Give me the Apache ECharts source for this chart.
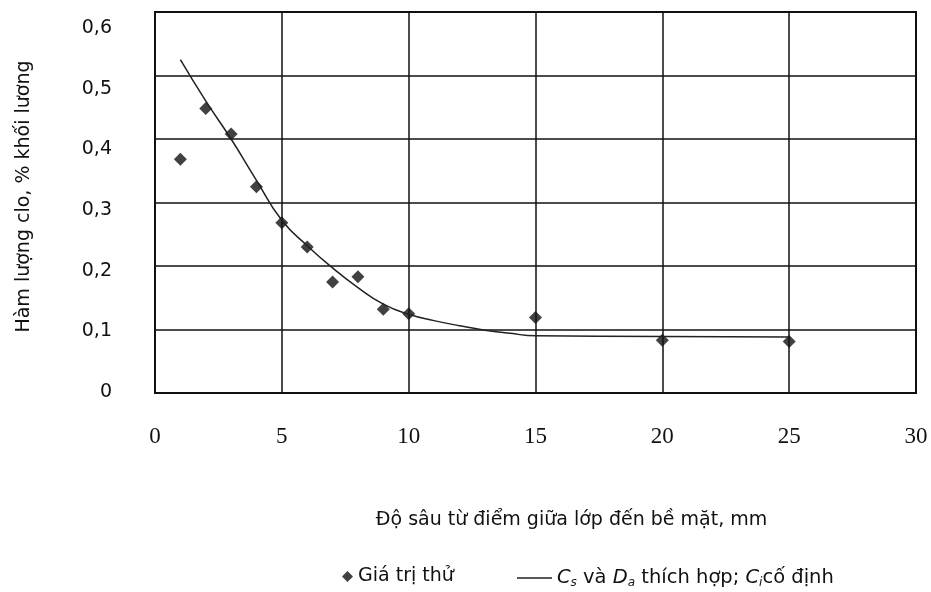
<!DOCTYPE html>
<html><head><meta charset="utf-8">
<script src="https://cdn.jsdelivr.net/npm/echarts@6/dist/echarts.min.js"></script>
<style>html,body{margin:0;padding:0;background:#fff}#c{width:931px;height:592px}</style>
</head><body><div id="c"></div>
<script>
const xTicks = [0, 5, 10, 15, 20, 25, 30];
const yTicks = [0, 0.1, 0.2, 0.3, 0.4, 0.5, 0.6];
const testDepth = [1, 2, 3, 4, 5, 6, 7, 8, 9, 10, 15, 20, 25];
const testValue = [0.368, 0.448, 0.408, 0.325, 0.268, 0.230, 0.175, 0.183, 0.132, 0.125, 0.119, 0.083, 0.081];
const fitDepth = [1, 2, 3, 4, 5, 6, 7, 8, 9, 10, 11, 12, 13, 14, 15, 20, 25];
const fitValue = [0.525, 0.460, 0.400, 0.335, 0.272, 0.232, 0.197, 0.166, 0.140, 0.124, 0.114, 0.106, 0.099, 0.094, 0.090, 0.089, 0.088];
const seriesNames = ['Giá trị thử', 'fit'];

const SANS = 'DejaVu Sans';
const chart = echarts.init(document.getElementById('c'));
chart.setOption({
  backgroundColor: '#fff',
  animation: false,
  grid: [
    {left: 155, right: 15, top: 12, bottom: 199, show: true, borderColor: '#111', borderWidth: 2},
    {left: 155, right: 15, top: 28, bottom: 200, show: false}
  ],
  xAxis: [{
    type: 'value', min: xTicks[0], max: xTicks[xTicks.length - 1], interval: 5, gridIndex: 0,
    name: 'Độ sâu từ điểm giữa lớp đến bề mặt, mm',
    nameLocation: 'middle', nameGap: 118,
    nameTextStyle: {fontFamily: SANS, fontSize: 19, color: '#111', padding: [0, 0, 0, 72]},
    axisLine: {lineStyle: {color: '#111', width: 2}},
    axisTick: {show: false},
    axisLabel: {fontFamily: 'Liberation Serif', fontSize: 23, color: '#111', margin: 32},
    splitLine: {lineStyle: {color: '#111', width: 1.5}}
  }, {
    type: 'value', min: 0, max: 30, gridIndex: 1, show: false
  }],
  yAxis: [{
    type: 'value', min: yTicks[0], max: yTicks[yTicks.length - 1], interval: 0.1, gridIndex: 0,
    name: 'Hàm lượng clo, % khối lương',
    nameLocation: 'middle', nameGap: 121,
    nameTextStyle: {fontFamily: SANS, fontSize: 19, color: '#111', padding: [0, 0, 0, 12]},
    axisLine: {lineStyle: {color: '#111', width: 2}},
    axisTick: {show: false},
    axisLabel: {show: false},
    splitLine: {lineStyle: {color: '#111', width: 1.5}}
  }, {
    type: 'value', min: yTicks[0], max: yTicks[yTicks.length - 1], interval: 0.1, gridIndex: 1,
    axisLine: {show: false}, axisTick: {show: false}, splitLine: {show: false},
    axisLabel: {fontFamily: SANS, fontSize: 19, color: '#111', margin: 43,
      formatter: v => String(Math.round(v * 10) / 10).replace('.', ',')}
  }],
  legend: [
    {data: [seriesNames[0]], left: 342, top: 567, padding: 0, itemWidth: 11, itemHeight: 11,
     textStyle: {fontFamily: SANS, fontSize: 19, color: '#111'}},
    {data: [{name: seriesNames[1], icon: 'rect'}], left: 517, top: 568, padding: 0, itemWidth: 35, itemHeight: 1.5,
     formatter: () => '{i|C}{s|s} và {i|D}{s|a} thích hợp; {i|C}{s|i}cố định',
     textStyle: {fontFamily: SANS, fontSize: 19.5, color: '#111',
       rich: {
         i: {fontFamily: SANS, fontStyle: 'italic', fontSize: 19.5, color: '#111'},
         s: {fontFamily: SANS, fontStyle: 'italic', fontSize: 12, color: '#111', padding: [9, 0, 0, 0]}
       }}}
  ],
  series: [
    {name: seriesNames[0], type: 'scatter', symbol: 'diamond', symbolSize: 13,
     itemStyle: {color: '#111'},
     data: testDepth.map((d, i) => [d, testValue[i]])},
    {name: seriesNames[1], type: 'line', symbol: 'none', smooth: 0.5,
     lineStyle: {color: '#222', width: 1.5},
     itemStyle: {color: '#222'},
     data: fitDepth.map((d, i) => [d, fitValue[i]])}
  ]
});
</script></body></html>
